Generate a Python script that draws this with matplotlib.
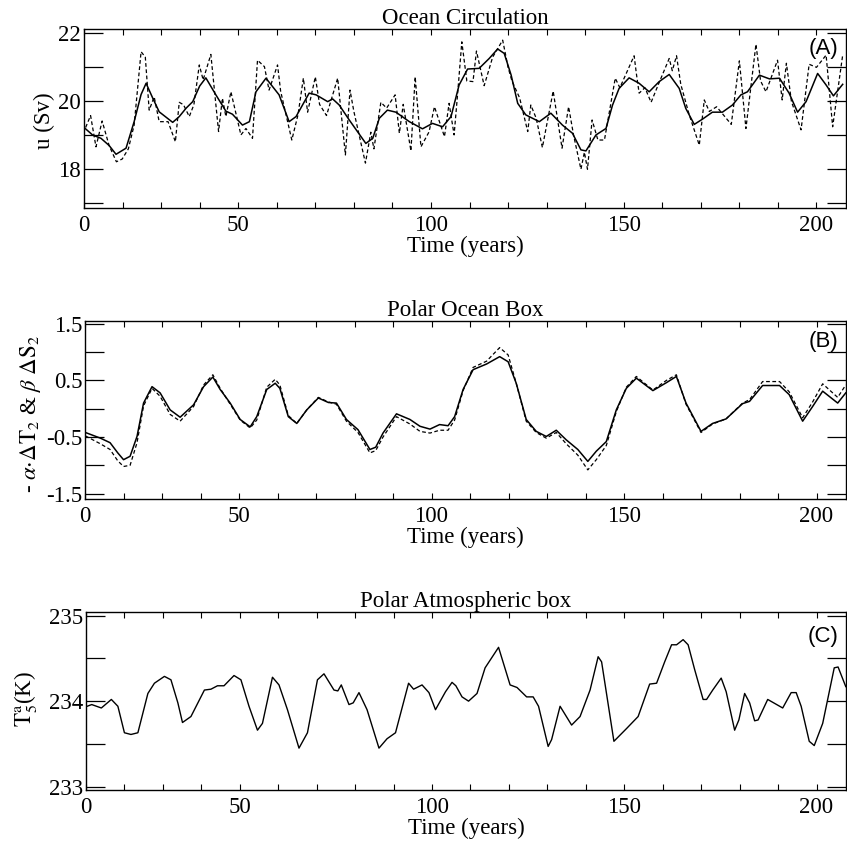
import matplotlib
matplotlib.use('Agg')
import matplotlib.pyplot as plt
from matplotlib.ticker import MultipleLocator

plt.rcParams['font.family'] = 'Liberation Serif'
plt.rcParams['mathtext.fontset'] = 'stix'

# ---- data (time axis in the plot's own units) ----
# Panel A: ocean circulation (Sv)
ta_smooth = [9.8, 12.2, 14.4, 16.5, 18.3, 20.9, 23.0, 24.8, 26.1, 27.8, 29.5, 33.0, 34.7, 36.5,
             38.2, 40.0, 41.6, 44.2, 46.8, 48.5, 51.1, 52.9, 54.6, 57.2, 60.6, 63.2, 65.0, 68.4,
             70.2, 73.2, 74.5, 76.2, 78.8, 83.1, 84.9, 86.6, 88.7, 90.9, 94.4, 97.8, 100.4, 103.0,
             105.2, 107.3, 109.5, 112.5, 115.1, 117.3, 119.0, 120.8, 122.5, 124.6, 128.1, 131.1,
             134.1, 136.7, 138.9, 140.2, 142.8, 145.4, 147.1, 148.8, 151.4, 154.0, 156.6, 159.2,
             161.8, 164.4, 166.1, 168.3, 170.5, 173.0, 175.6, 178.2, 180.4, 182.1, 185.2, 187.8,
             190.4, 192.9, 195.1, 197.3, 200.3, 202.5, 204.4, 206.8]
ua_smooth = [19.25, 19.01, 18.91, 18.70, 18.44, 18.62, 19.40, 20.20, 20.53, 20.10, 19.69, 19.38,
             19.55, 19.80, 19.99, 20.45, 20.69, 20.19, 19.71, 19.62, 19.30, 19.40, 20.28, 20.68,
             20.19, 19.40, 19.55, 20.24, 20.19, 19.99, 20.07, 19.89, 19.45, 18.76, 18.91, 19.50,
             19.74, 19.68, 19.40, 19.19, 19.35, 19.25, 19.55, 20.48, 20.95, 20.97, 21.26, 21.54,
             21.41, 20.77, 19.94, 19.60, 19.40, 19.65, 19.30, 19.06, 18.57, 18.54, 19.01, 19.20,
             19.89, 20.38, 20.69, 20.53, 20.28, 20.58, 20.79, 20.38, 19.79, 19.32, 19.48, 19.68,
             19.68, 19.89, 20.19, 20.28, 20.77, 20.66, 20.68, 20.24, 19.68, 19.99, 20.82, 20.48,
             20.16, 20.50]

ta_raw = [9.8, 11.7, 13.1, 14.7, 16.5, 18.4, 19.9, 21.5, 23.0, 24.8, 25.9, 26.9, 28.2, 29.5, 31.8,
          33.7, 34.7, 35.8, 37.3, 38.5, 39.9, 40.9, 42.9, 44.9, 45.9, 46.8, 48.1, 50.7, 52.0, 53.7,
          55.0, 56.8, 58.0, 60.2, 61.0, 63.9, 65.5, 66.9, 68.0, 70.0, 71.1, 72.9, 75.8, 77.8, 79.0,
          80.0, 83.0, 84.4, 85.2, 87.0, 88.5, 90.7, 91.8, 92.8, 94.8, 95.9, 97.4, 99.5, 100.9,
          103.5, 104.7, 106.0, 106.9, 108.0, 109.3, 110.9, 111.8, 113.8, 116.0, 118.6, 120.0,
          121.0, 123.0, 125.1, 125.9, 127.3, 128.9, 131.7, 134.0, 135.7, 137.0, 138.9, 139.8,
          140.6, 141.8, 143.3, 145.0, 147.8, 149.0, 152.7, 153.3, 154.0, 155.5, 157.1, 159.0,
          161.8, 162.6, 163.7, 164.8, 167.0, 169.6, 170.9, 172.2, 174.1, 177.9, 180.0, 181.7,
          184.3, 185.5, 186.9, 189.9, 191.1, 192.2, 193.5, 196.0, 198.1, 200.0, 202.5, 204.2, 206.8]
ua_raw = [19.06, 19.58, 18.66, 19.42, 18.70, 18.22, 18.30, 18.60, 19.30, 21.46, 21.30, 19.74,
          20.13, 19.40, 19.40, 18.81, 19.97, 19.90, 19.55, 19.90, 21.07, 20.63, 21.38, 19.11,
          20.09, 19.55, 20.28, 19.01, 19.20, 18.91, 21.21, 21.02, 20.33, 21.07, 20.30, 18.86,
          19.60, 20.68, 19.68, 20.72, 19.91, 19.58, 20.68, 18.42, 20.33, 19.70, 18.18, 19.09,
          18.60, 19.97, 19.80, 20.19, 19.06, 19.91, 18.54, 20.72, 18.66, 19.10, 19.84, 18.96,
          19.94, 19.01, 20.20, 21.75, 20.60, 20.58, 21.48, 20.46, 21.30, 21.80, 21.00, 20.60,
          20.10, 19.11, 19.89, 19.50, 18.64, 20.30, 18.62, 19.84, 19.00, 18.00, 18.50, 18.00,
          19.45, 18.86, 18.86, 20.68, 20.40, 21.34, 20.80, 20.24, 20.40, 19.97, 20.50, 21.26,
          20.90, 21.34, 20.50, 19.60, 18.71, 20.04, 19.70, 19.84, 19.32, 21.19, 19.20, 21.68,
          20.60, 20.28, 21.21, 20.04, 21.12, 20.00, 19.16, 21.09, 21.00, 21.36, 19.25, 21.36]

# Panel B: polar ocean box, -alpha dT2 (solid) and beta dS2 (dashed)
tb = [10.1, 14.0, 16.5, 18.5, 20.0, 21.7, 23.5, 25.2, 27.4, 29.5, 32.1, 34.7, 38.2, 40.8, 43.2,
      45.1, 47.7, 50.3, 52.9, 54.6, 57.2, 59.4, 60.6, 62.8, 65.0, 67.6, 70.6, 73.2, 75.3, 77.9,
      80.9, 84.0, 85.5, 87.4, 90.9, 94.4, 97.0, 99.6, 102.1, 104.3, 106.0, 108.2, 110.8, 114.3,
      117.7, 119.9, 122.0, 124.6, 127.2, 129.8, 132.4, 135.0, 138.0, 140.6, 142.8, 145.4, 148.0,
      150.6, 153.2, 157.5, 161.0, 163.6, 166.1, 170.0, 173.0, 176.5, 180.8, 182.6, 186.0, 190.4,
      192.9, 196.4, 199.0, 201.6, 205.5, 207.6]
temp_b = [-0.42, -0.52, -0.60, -0.78, -0.90, -0.84, -0.49, 0.10, 0.39, 0.28, -0.02, -0.15, 0.07,
          0.39, 0.56, 0.34, 0.10, -0.19, -0.32, -0.14, 0.34, 0.45, 0.36, -0.14, -0.26, -0.02,
          0.19, 0.11, 0.10, -0.19, -0.37, -0.72, -0.68, -0.43, -0.09, -0.19, -0.31, -0.36, -0.28,
          -0.30, -0.14, 0.34, 0.69, 0.79, 0.92, 0.83, 0.45, -0.19, -0.40, -0.49, -0.38, -0.55,
          -0.72, -0.93, -0.75, -0.58, -0.02, 0.36, 0.54, 0.32, 0.46, 0.57, 0.10, -0.40, -0.26,
          -0.18, 0.09, 0.13, 0.41, 0.41, 0.25, -0.22, 0.04, 0.31, 0.10, 0.28]
salt_b = [-0.48, -0.62, -0.72, -0.92, -1.02, -1.00, -0.60, 0.05, 0.36, 0.22, -0.10, -0.22, 0.04,
          0.42, 0.60, 0.36, 0.08, -0.20, -0.34, -0.20, 0.38, 0.52, 0.42, -0.12, -0.26, -0.02,
          0.20, 0.12, 0.08, -0.22, -0.42, -0.78, -0.74, -0.50, -0.14, -0.27, -0.40, -0.43, -0.38,
          -0.38, -0.20, 0.32, 0.73, 0.84, 1.08, 0.95, 0.45, -0.22, -0.42, -0.52, -0.42, -0.62,
          -0.82, -1.08, -0.90, -0.65, -0.05, 0.38, 0.57, 0.33, 0.50, 0.60, 0.08, -0.42, -0.27,
          -0.18, 0.10, 0.16, 0.48, 0.48, 0.30, -0.16, 0.12, 0.44, 0.20, 0.42]

# Panel C: polar atmospheric box temperature (K)
tc = [10.3, 11.5, 14.0, 16.6, 18.3, 20.0, 21.7, 23.5, 26.1, 27.8, 30.4, 32.1, 33.9, 35.1, 37.3,
      40.8, 42.5, 44.2, 45.9, 48.5, 50.3, 52.4, 54.6, 55.9, 58.5, 60.2, 62.4, 65.4, 67.6, 70.2,
      71.9, 74.5, 75.5, 76.4, 78.4, 79.5, 81.0, 83.1, 86.2, 88.3, 90.5, 93.9, 95.2, 97.4, 99.2,
      100.9, 103.5, 105.2, 106.2, 107.8, 109.5, 111.7, 113.8, 117.3, 120.3, 122.1, 124.6, 126.3,
      127.7, 130.2, 131.1, 133.3, 136.3, 138.5, 141.1, 143.2, 144.1, 147.3, 150.6, 153.6, 156.6,
      158.4, 160.5, 162.3, 163.6, 165.3, 166.6, 168.3, 170.5, 171.4, 173.0, 175.2, 176.5, 178.7,
      179.8, 181.3, 182.6, 183.9, 184.8, 187.3, 191.2, 193.4, 194.7, 196.0, 198.1, 199.4, 201.6,
      204.6, 205.6, 207.6]
tatm_c = [233.94, 233.96, 233.92, 234.02, 233.94, 233.63, 233.61, 233.63, 234.09, 234.21, 234.29,
          234.25, 233.98, 233.75, 233.82, 234.13, 234.14, 234.18, 234.18, 234.30, 234.25, 233.94,
          233.66, 233.74, 234.28, 234.19, 233.90, 233.45, 233.63, 234.25, 234.32, 234.13, 234.12,
          234.19, 233.96, 233.98, 234.10, 233.90, 233.45, 233.56, 233.63, 234.21, 234.14, 234.19,
          234.10, 233.90, 234.11, 234.22, 234.18, 234.05, 234.00, 234.09, 234.39, 234.63, 234.19,
          234.16, 234.05, 234.05, 233.94, 233.47, 233.55, 233.94, 233.72, 233.82, 234.13, 234.52,
          234.46, 233.53, 233.68, 233.82, 234.20, 234.21, 234.46, 234.66, 234.66, 234.72, 234.66,
          234.37, 234.02, 234.02, 234.13, 234.27, 234.11, 233.66, 233.78, 234.09, 233.98, 233.77,
          233.78, 234.02, 233.92, 234.10, 234.10, 233.94, 233.53, 233.48, 233.74, 234.39, 234.40,
          234.17]

x_tick_pos = [10, 50, 100, 150, 200]
x_tick_labels = ['0', '50', '100', '150', '200']

fig = plt.figure(figsize=(8.47, 8.44), dpi=100)
axA = fig.add_axes([0.0992, 0.7532, 0.8998, 0.2121])
axB = fig.add_axes([0.1004, 0.4084, 0.8986, 0.2113])
axC = fig.add_axes([0.1015, 0.0640, 0.8975, 0.2105])

axA.plot(ta_smooth, ua_smooth, color='black', lw=1.1)
axA.plot(ta_raw, ua_raw, color='black', lw=0.9, ls=(0, (3, 2)))
axB.plot(tb, temp_b, color='black', lw=1.1)
axB.plot(tb, salt_b, color='black', lw=0.9, ls=(0, (3, 2)))
axC.plot(tc, tatm_c, color='black', lw=1.0)

titles = ['Ocean Circulation', 'Polar Ocean Box', 'Polar Atmospheric box']
tags = ['(A)', '(B)', '(C)']
tag_y = [0.89, 0.885, 0.865]
for ax, title, tag, ty in zip([axA, axB, axC], titles, tags, tag_y):
    ax.set_xlim(10, 207.7)
    ax.set_xticks(x_tick_pos)
    ax.set_xticklabels(x_tick_labels)
    ax.xaxis.set_minor_locator(MultipleLocator(10))
    ax.tick_params(axis='x', which='both', direction='in', top=True, bottom=True,
                   length=4, width=0.8, labelsize=16.5, pad=5)
    ax.tick_params(axis='y', which='major', direction='in', left=True, right=True,
                   length=14, width=0.9, labelsize=16.5, pad=2)
    ax.set_xlabel('Time (years)', fontsize=16.5, labelpad=0)
    ax.set_title(title, fontsize=16.5, pad=3)
    ax.text(0.97, ty, tag, transform=ax.transAxes, ha='center', va='center',
            fontsize=16, family='Liberation Sans')
    for s in ax.spines.values():
        s.set_linewidth(1.0)

axA.set_ylim(16.85, 22.12)
axA.set_yticks([17, 18, 19, 20, 21, 22])
axA.set_yticklabels(['', '18', '', '20', '', '22'])
axA.set_ylabel('u (Sv)', fontsize=16.5)
axA.yaxis.set_label_coords(-0.038, 0.49)

axB.set_ylim(-1.6, 1.55)
axB.set_yticks([-1.5, -1.0, -0.5, 0.0, 0.5, 1.0, 1.5])
axB.set_yticklabels(['-1.5', '', '-0.5', '', '0.5', '', '1.5'])
axB.set_ylabel(r'- $\alpha{\cdot}\Delta\mathrm{T}_2$ & $\beta\ \Delta\mathrm{S}_2$', fontsize=16.5)
axB.yaxis.set_label_coords(-0.055, 0.48)

axC.set_ylim(232.96, 235.04)
axC.set_yticks([233, 233.5, 234, 234.5, 235])
axC.set_yticklabels(['233', '', '234', '', '235'])
axC.set_ylabel(r'$\mathrm{T}_5^{\mathrm{a}}$(K)', fontsize=16.5)
axC.yaxis.set_label_coords(-0.062, 0.51)

fig.savefig('out.png', dpi=100)
